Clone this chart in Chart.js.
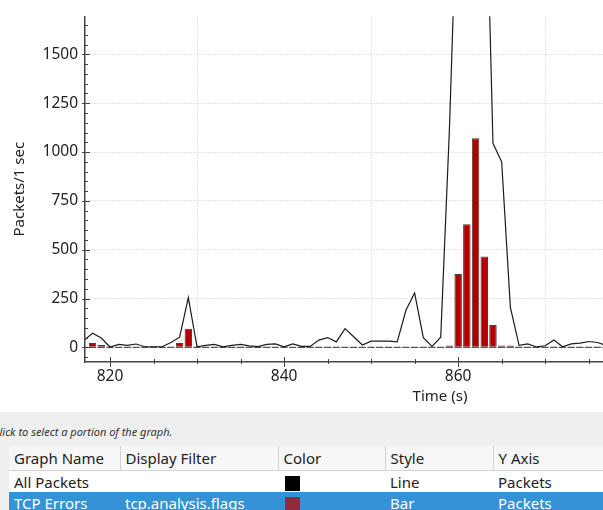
<!DOCTYPE html>
<html>
<head>
<meta charset="utf-8">
<script src="https://cdn.jsdelivr.net/npm/chart.js@4.4.0/dist/chart.umd.min.js"></script>
<style>
  html, body { margin: 0; padding: 0; }
  body { width: 603px; height: 510px; overflow: hidden; position: relative; background: #fff; font-family: "Noto Sans", sans-serif; }
  #ioGraph { position: absolute; left: 0; top: 0; }
  #panel { position: absolute; left: 0; top: 412px; width: 800px; height: 98px; background: #efefef; }
  .hint { position: absolute; left: -7px; top: 12px; font-size: 11px; font-style: italic; color: #333; white-space: nowrap; }
  table { position: absolute; left: 9px; top: 34px; border-collapse: collapse; font-size: 15px; color: #222; table-layout: fixed; }
  th, td { text-align: left; font-weight: normal; padding: 0 0 0 5px; white-space: nowrap; overflow: hidden; }
  th { height: 24px; background: #f6f6f6; border-right: 1px solid #d4d4d4; border-bottom: 1px solid #d4d4d4; }
  td { height: 21px; background: #fff; }
  tr.sel td { background: #3592d4; color: #fff; }
  .sw { display: inline-block; width: 15px; height: 15px; vertical-align: middle; margin-left: 2px; }
</style>
</head>
<body>
<canvas id="ioGraph" width="800" height="412"></canvas>
<div id="panel">
  <div class="hint">Click to select a portion of the graph.</div>
  <table>
    <colgroup><col style="width:111px"><col style="width:158px"><col style="width:107px"><col style="width:108px"><col style="width:200px"></colgroup>
    <tr><th>Graph Name</th><th>Display Filter</th><th>Color</th><th>Style</th><th>Y Axis</th></tr>
    <tr><td>All Packets</td><td></td><td><span class="sw" style="background:#000"></span></td><td>Line</td><td>Packets</td></tr>
    <tr class="sel"><td>TCP Errors</td><td>tcp.analysis.flags</td><td><span class="sw" style="background:#8f2b3b"></span></td><td>Bar</td><td>Packets</td></tr>
  </table>
</div>
<script>
// one sample per second
const seconds = [817, 818, 819, 820, 821, 822, 823, 824, 825, 826,
    827, 828, 829, 830, 831, 832, 833, 834, 835, 836,
    837, 838, 839, 840, 841, 842, 843, 844, 845, 846,
    847, 848, 849, 850, 851, 852, 853, 854, 855, 856,
    857, 858, 859, 860, 861, 862, 863, 864, 865, 866,
    867, 868, 869, 870, 871, 872, 873, 874, 875, 876, 877];

// All Packets (line)
const allPackets = [35, 72, 48, 2, 15, 10, 17, 3, 3, 3,
    25, 52, 255, 3, 10, 15, 3, 10, 15, 8,
    4, 15, 18, 3, 18, 5, 5, 37, 50, 28,
    96, 54, 12, 32, 32, 32, 28, 190, 278, 50,
    5, 52, 1120, 2500, 3600, 3900, 2800, 1045, 950, 205,
    10, 18, 2, 8, 38, 3, 18, 22, 30, 25, 10];

// TCP Errors (bars)
const tcpErrors = [0, 22, 12, 0, 0, 0, 0, 0, 0, 0,
    0, 22, 95, 0, 0, 0, 0, 0, 0, 0,
    0, 0, 0, 0, 0, 0, 0, 0, 0, 0,
    0, 0, 0, 0, 0, 3, 0, 0, 0, 0,
    0, 0, 10, 375, 630, 1070, 465, 115, 10, 10,
    0, 0, 0, 0, 0, 0, 0, 0, 0, 0, 0];

// labelled ticks
const xTickValues = [820, 840, 860, 880];
const yTickValues = [0, 250, 500, 750, 1000, 1250, 1500];
const yMajorStep = 250, yMinorStep = 50;
const xMajorStep = 20, xMinorStep = 5;

Chart.defaults.font.family = '"Noto Sans", sans-serif';
Chart.defaults.color = '#222';

// qcustomplot style tick marks (major + minor)
const axisTicks = {
    id: 'axisTicks',
    afterDraw(chart) {
        const {ctx, chartArea, scales: {x, y}} = chart;
        ctx.save();
        ctx.strokeStyle = '#444';
        ctx.lineWidth = 1;
        ctx.beginPath();
        for (let v = Math.ceil(y.min / yMinorStep) * yMinorStep; v <= y.max; v += yMinorStep) {
            const py = Math.round(y.getPixelForValue(v)) + 0.5;
            const major = v % yMajorStep === 0;
            ctx.moveTo(chartArea.left - (major ? 3 : 1), py);
            ctx.lineTo(chartArea.left + (major ? 5 : 3), py);
        }
        for (let v = Math.ceil(x.min / xMinorStep) * xMinorStep; v <= x.max; v += xMinorStep) {
            const px = Math.round(x.getPixelForValue(v)) + 0.5;
            const major = v % xMajorStep === 0;
            ctx.moveTo(px, chartArea.bottom - (major ? 5 : 3));
            ctx.lineTo(px, chartArea.bottom + (major ? 5 : 2));
        }
        ctx.stroke();
        ctx.restore();
    }
};

var ctx = document.getElementById('ioGraph').getContext('2d');
var ioChart = new Chart(ctx, {
    type: 'line',
    data: {
        datasets: [{
            type: 'line',
            label: 'All Packets',
            data: seconds.map((t, i) => ({x: t, y: allPackets[i]})),
            borderColor: '#1c1c1c',
            borderWidth: 1.2,
            pointRadius: 0,
            tension: 0,
            order: 0
        }, {
            type: 'line',
            label: 'zero',
            data: seconds.map(t => ({x: t, y: 0})),
            borderColor: '#555',
            borderWidth: 1.3,
            borderDash: [7.2, 1.5],
            borderDashOffset: 3.6,
            pointRadius: 0,
            order: 1
        }, {
            type: 'bar',
            label: 'TCP Errors',
            data: seconds.map((t, i) => ({x: t, y: tcpErrors[i]})),
            backgroundColor: '#b00000',
            borderColor: '#4d3a3a',
            borderWidth: 1,
            barPercentage: 0.86,
            categoryPercentage: 1,
            order: 2
        }]
    },
    options: {
        responsive: false,
        animation: false,
        layout: { padding: { top: 13, right: 5, left: 0, bottom: 0 } },
        plugins: {
            legend: { display: false },
            tooltip: { enabled: false }
        },
        scales: {
            x: {
                type: 'linear',
                min: 817.13,
                max: 898.7,
                offset: false,
                afterBuildTicks(scale) { scale.ticks = xTickValues.map(v => ({value: v})); },
                ticks: {
                    autoSkip: false,
                    maxRotation: 0,
                    padding: 5,
                    color: '#222',
                    font: { size: 15.5 },
                    callback: v => String(v)
                },
                grid: { color: '#c8c8c8', drawTicks: false },
                border: { color: '#444', width: 1.5, dash: [1, 2] },
                title: {
                    display: true,
                    text: 'Time (s)',
                    color: '#222',
                    font: { size: 15 },
                    padding: { top: 0, bottom: 6 }
                },
                afterFit(scale) { scale.height = 50; }
            },
            y: {
                min: -75,
                max: 1695,
                afterBuildTicks(scale) { scale.ticks = yTickValues.map(v => ({value: v})); },
                ticks: {
                    autoSkip: false,
                    padding: 7,
                    color: '#222',
                    font: { size: 15.5 },
                    callback: v => String(v)
                },
                grid: { color: '#c8c8c8', drawTicks: false },
                border: { color: '#444', width: 1.5, dash: [1, 2] },
                title: {
                    display: true,
                    text: 'Packets/1 sec',
                    color: '#222',
                    font: { size: 15 },
                    padding: { top: 10.5, bottom: 0 }
                },
                afterFit(scale) { scale.width = 85; }
            }
        }
    },
    plugins: [axisTicks]
});
</script>
</body>
</html>
